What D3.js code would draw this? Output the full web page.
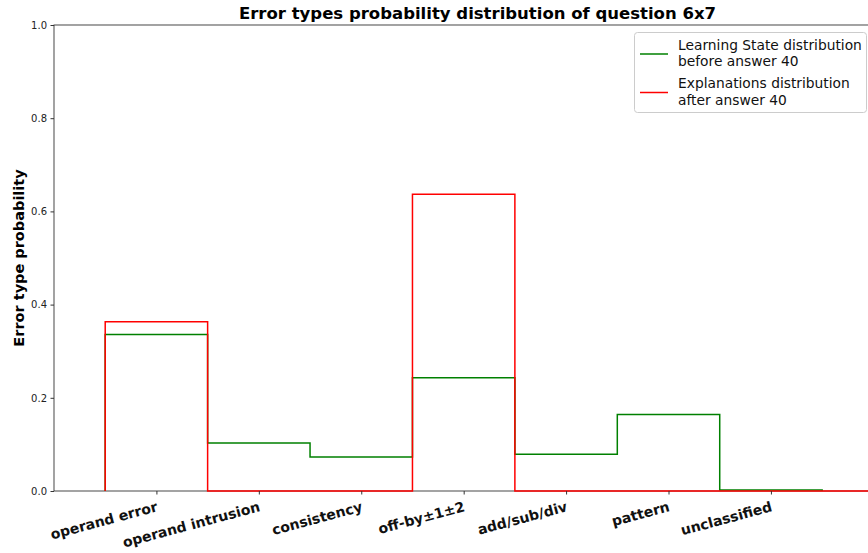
<!DOCTYPE html>
<html><head><meta charset="utf-8">
<script src="https://cdn.jsdelivr.net/npm/d3@7"></script>
<style>
body{margin:0;background:#fff;}
text{font-family:"DejaVu Sans",sans-serif;}
</style></head>
<body><svg id="c" width="868" height="553"></svg>
<script>
const categories = ["operand error","operand intrusion","consistency","off-by\u00b11\u00b12","add/sub/div","pattern","unclassified"];
const learningState = [0.336,0.103,0.073,0.243,0.079,0.164,0.002];
const explanations = [0.363,0,0,0.637,0,0,0];
const yTicks = [0.0,0.2,0.4,0.6,0.8,1.0];
const seriesNames = [["Learning State distribution","before answer 40"],["Explanations distribution","after answer 40"]];
const colors = ["green","red"];

const svg = d3.select("#c");
const L=54, R=901, T=25, B=491;
const x = d3.scaleLinear().domain([-1,7.27]).range([L,R]);
const y = d3.scaleLinear().domain([0,1]).range([B,T]);

function stepPath(vals, extendTo){
  const p = d3.path();
  p.moveTo(x(-0.5), y(0));
  vals.forEach((v,i)=>{ p.lineTo(x(i-0.5), y(v)); p.lineTo(x(i+0.5), y(v)); });
  p.lineTo(x(vals.length-0.5), y(0));
  if(extendTo!==undefined) p.lineTo(extendTo, y(0));
  return p.toString();
}

// spines
svg.append("rect").attr("x",L).attr("y",T).attr("width",R-L).attr("height",B-T)
  .attr("fill","none").attr("stroke","#333").attr("stroke-width",0.9);

svg.append("path").attr("d",stepPath(learningState)).attr("fill","none")
  .attr("stroke",colors[0]).attr("stroke-width",1.5);
svg.append("path").attr("d",stepPath(explanations,R)).attr("fill","none")
  .attr("stroke",colors[1]).attr("stroke-width",1.5);

// y axis
const ya = svg.append("g").attr("transform",`translate(${L},0)`)
  .call(d3.axisLeft(y).tickValues(yTicks).tickFormat(d3.format(".1f")).tickSize(3.5).tickPadding(3.5));
ya.select(".domain").remove();
ya.selectAll("line").attr("stroke","#333");
ya.selectAll("text").attr("font-size",10).attr("fill","#222").attr("font-family","DejaVu Sans");

// x axis
const xa = svg.append("g").attr("transform",`translate(0,${B})`)
  .call(d3.axisBottom(x).tickValues(d3.range(categories.length)).tickSize(3.5).tickFormat(""));
xa.select(".domain").remove();
xa.selectAll("line").attr("stroke","#333");
svg.append("g").selectAll("text").data(categories).join("text")
  .attr("transform",(d,i)=>`translate(${x(i)+2},${511}) rotate(-15)`)
  .attr("text-anchor","end").attr("font-size",14).attr("font-weight","bold").attr("fill","#111")
  .text(d=>d);

// title
svg.append("text").attr("x",(L+R)/2).attr("y",19).attr("text-anchor","middle")
  .attr("font-size",16.5).attr("font-weight","bold").attr("fill","#000")
  .text("Error types probability distribution of question 6x7");

// y label
svg.append("text").attr("transform",`translate(24,${(T+B)/2}) rotate(-90)`)
  .attr("text-anchor","middle").attr("font-size",14.5).attr("font-weight","bold").attr("fill","#000")
  .text("Error type probability");

// legend
const lg = svg.append("g");
lg.append("rect").attr("x",634.5).attr("y",32.5).attr("width",232).attr("height",80).attr("rx",3)
  .attr("fill","#fff").attr("fill-opacity",0.8).attr("stroke","#ccc");
seriesNames.forEach((lines,k)=>{
  const cy = 54 + k*38.5;
  lg.append("line").attr("x1",640).attr("x2",668).attr("y1",cy).attr("y2",cy)
    .attr("stroke",colors[k]).attr("stroke-width",1.5);
  lines.forEach((t,j)=>{
    lg.append("text").attr("x",678).attr("y",cy - 4.5 + j*16.5).attr("font-size",13.8).attr("fill","#111").text(t);
  });
});
</script></body></html>
